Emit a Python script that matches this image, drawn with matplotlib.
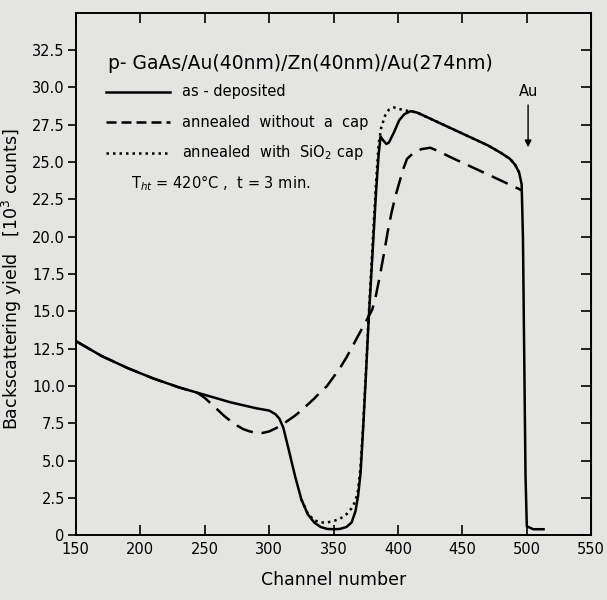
import matplotlib.pyplot as plt

# as-deposited
ch_dep = [150, 160, 170, 180, 190, 200, 210, 220, 230, 240, 250, 260, 270, 280, 290,
          300, 305, 308, 311, 315, 320, 325, 330, 335, 340, 345, 350, 355, 360, 364,
          367, 369, 371, 373, 375, 377, 379, 381, 383, 385, 386.5, 388, 391, 393, 397,
          401, 405, 410, 415, 420, 430, 440, 450, 460, 470, 480, 487, 491, 494, 496,
          497, 498, 499, 500, 505, 510, 513]
y_dep = [13.0, 12.5, 12.0, 11.6, 11.2, 10.85, 10.5, 10.2, 9.9, 9.65, 9.4, 9.15, 8.9, 8.7, 8.5,
         8.35, 8.1, 7.8, 7.2, 5.8, 4.0, 2.4, 1.4, 0.85, 0.55, 0.42, 0.4, 0.42, 0.55, 0.85,
         1.6, 2.6, 4.2, 7.2, 10.5, 14.0, 17.0, 20.0, 23.0, 25.5, 26.7, 26.5, 26.2, 26.3, 27.0,
         27.8, 28.2, 28.4, 28.3, 28.1, 27.7, 27.3, 26.9, 26.5, 26.1, 25.6, 25.2, 24.8, 24.3, 23.5,
         20.0, 12.0, 4.0, 0.6, 0.4, 0.4, 0.4]

# annealed without a cap
ch_nocap = [150, 160, 170, 180, 190, 200, 210, 220, 230, 240, 245, 250, 255, 260, 265,
            270, 275, 280, 285, 290, 295, 300, 305, 310, 315, 320, 325, 330, 335, 340,
            345, 350, 355, 360, 365, 370, 375, 380, 383, 386, 389, 392, 395, 398, 401,
            404, 407, 412, 418, 425, 432, 440, 450, 460, 470, 480, 490, 496]
y_nocap = [13.0, 12.5, 12.0, 11.6, 11.2, 10.85, 10.5, 10.2, 9.9, 9.65, 9.5, 9.2, 8.8, 8.4, 8.0,
           7.65, 7.35, 7.1, 6.95, 6.85, 6.85, 6.95, 7.15, 7.4, 7.7, 8.0, 8.35, 8.75, 9.15, 9.6,
           10.0, 10.6, 11.2, 11.9, 12.7, 13.5, 14.3, 15.1, 16.1, 17.4, 18.8, 20.3, 21.6, 22.7, 23.6,
           24.5, 25.2, 25.6, 25.85, 25.95, 25.7, 25.35, 24.95, 24.55, 24.15, 23.75, 23.35, 23.1]

# annealed with SiO2 cap
ch_cap = [325, 330, 335, 340, 345, 350, 355, 360, 364, 367, 369, 371, 373, 375, 377,
          379, 381, 383, 385, 387, 390, 393, 397, 401, 405, 410, 415, 420, 430, 440,
          450, 460, 470, 480, 487, 491, 494]
y_cap = [2.4, 1.45, 1.0, 0.85, 0.85, 0.95, 1.1, 1.4, 1.8, 2.3, 3.0, 4.6, 7.4, 10.7, 14.2,
         17.4, 20.6, 23.6, 26.2, 27.3, 28.1, 28.5, 28.65, 28.55, 28.45, 28.4, 28.3, 28.1, 27.7, 27.3,
         26.9, 26.5, 26.1, 25.6, 25.2, 24.8, 24.3]

x_ticks = [150, 200, 250, 300, 350, 400, 450, 500, 550]
y_ticks = [0, 2.5, 5.0, 7.5, 10.0, 12.5, 15.0, 17.5, 20.0, 22.5, 25.0, 27.5, 30.0, 32.5]
y_ticklabels = ["0", "2.5", "5.0", "7.5", "10.0", "12.5", "15.0", "17.5", "20.0",
                "22.5", "25.0", "27.5", "30.0", "32.5"]

bg = "#e4e4e2"
plt.rcParams["font.family"] = ["DejaVu Sans"]

fig = plt.figure(figsize=(6.07, 6.0), dpi=100, facecolor=bg)
ax = fig.add_axes([0.125, 0.108, 0.849, 0.871], facecolor=bg)

ax.plot(ch_nocap, y_nocap, color="black", lw=1.8, ls=(0, (7, 3.5)))
ax.plot(ch_dep, y_dep, color="black", lw=1.8)
ax.plot(ch_cap, y_cap, color="black", lw=1.8, ls=(0, (1, 1.6)))

ax.set_xlim(150, 550)
ax.set_ylim(0, 35)
ax.set_xticks(x_ticks)
ax.set_yticks(y_ticks)
ax.set_yticklabels(y_ticklabels)
ax.tick_params(axis="x", direction="in", top=True, length=7, width=1.2, labelsize=10.5, pad=5)
ax.tick_params(axis="y", which="both", left=True, right=False, direction="out",
               length=6, width=1.2, labelsize=10.5, pad=2)
# right side ticks point inward
ax2 = ax.secondary_yaxis("right")
ax2.set_yticks(y_ticks)
ax2.tick_params(direction="in", length=7, width=1.2, labelright=False)
for s in ax.spines.values():
    s.set_linewidth(1.4)

ax.set_xlabel("Channel number", fontsize=12.5, labelpad=10)
ax.set_ylabel("Backscattering yield   [10$^3$ counts]", fontsize=12.5)
ax.yaxis.set_label_coords(-0.1, 0.49)

# annotations
ax.text(175, 31.6, "p- GaAs/Au(40nm)/Zn(40nm)/Au(274nm)", fontsize=13.5, va="center")
leg = [("as - deposited", "-"), ("annealed  without  a  cap", (0, (4, 2))),
       ("annealed  with  SiO$_2$ cap", (0, (1, 1.6)))]
for i, (lab, ls) in enumerate(leg):
    yy = 29.7 - 2.05 * i
    ax.plot([173.5, 223], [yy, yy], color="black", lw=1.8, ls=ls)
    ax.text(232, yy, lab, fontsize=10.5, va="center")
ax.text(193, 23.6, "T$_{ht}$ = 420°C ,  t = 3 min.", fontsize=10.5, va="center")

ax.text(501, 29.7, "Au", fontsize=10.5, ha="center", va="center")
ax.annotate("", xy=(501, 25.8), xytext=(501, 29.0),
            arrowprops=dict(arrowstyle="-|>", color="black", lw=1.0, mutation_scale=10))

fig.savefig("out.png", dpi=100, facecolor=bg)
